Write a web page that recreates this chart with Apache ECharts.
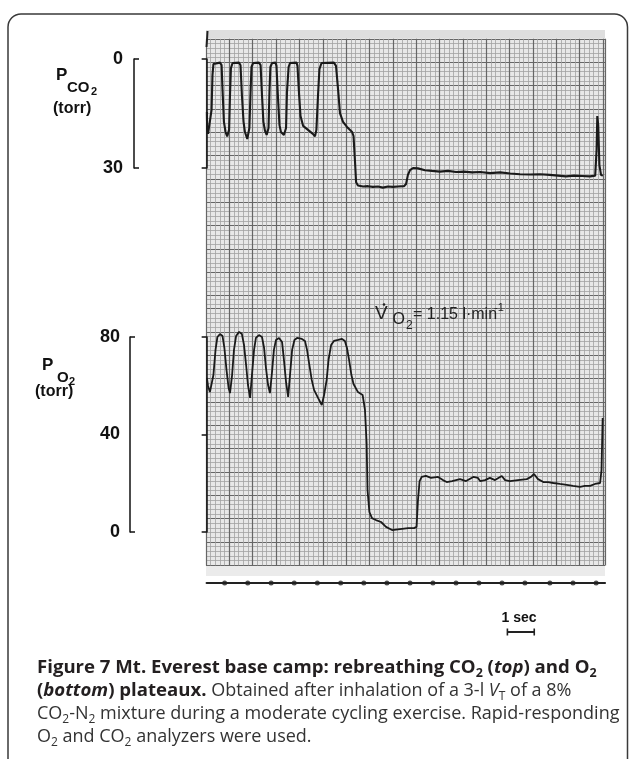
<!DOCTYPE html>
<html><head><meta charset="utf-8">
<script src="https://cdn.jsdelivr.net/npm/echarts@6/dist/echarts.min.js"></script>
<style>html,body{margin:0;padding:0;background:#fff}#c{width:629px;height:759px}</style>
</head><body><div id="c"></div>
<script>
// ---------------- data (time in s, pressures in torr) ----------------
const co2Ticks = [0, 30];
const o2Ticks = [0, 40, 80];
const co2Trace = [[0.01,14.6],[0.02,19.0],[0.06,20.6],[0.14,20.8],[0.21,14.0],[0.25,4.4],[0.29,1.4],[0.36,1.0],[0.57,1.0],[0.64,1.7],[0.68,8.5],[0.74,17.3],[0.81,20.1],[0.88,21.3],
[0.96,19.5],[1.00,9.9],[1.04,2.5],[1.11,1.1],[1.39,1.0],[1.45,1.7],[1.51,9.9],[1.58,17.3],[1.64,20.1],[1.74,22.0],
[1.83,19.0],[1.88,9.1],[1.92,2.2],[1.99,1.1],[2.24,1.0],[2.31,1.7],[2.37,9.9],[2.43,17.3],[2.50,19.8],[2.57,20.9],
[2.65,19.0],[2.69,9.1],[2.73,2.2],[2.80,1.1],[2.95,1.0],[2.99,1.9],[3.06,11.3],[3.12,18.2],[3.18,20.1],[3.31,20.9],
[3.40,19.0],[3.44,9.1],[3.51,2.2],[3.57,1.1],[3.85,1.0],[3.89,1.9],[3.96,9.9],[4.02,15.7],[4.13,18.4],[4.34,19.5],[4.55,20.6],[4.64,21.3],
[4.70,19.5],[4.77,9.9],[4.83,2.8],[4.92,1.1],[5.45,1.0],[5.54,1.9],[5.63,8.5],[5.71,14.9],[5.84,17.3],[6.01,18.7],[6.23,20.1],[6.29,21.2],[6.35,27.8],[6.40,33.9],[6.48,34.8],
[6.70,35.1],[6.91,35.0],[7.12,35.2],[7.34,35.1],[7.55,35.4],[7.76,35.1],[7.98,35.2],[8.19,35.1],[8.45,35.0],[8.54,34.4],[8.62,31.9],[8.71,30.6],[8.84,30.0],
[9.05,30.1],[9.35,30.6],[9.65,30.8],[9.99,31.0],[10.34,30.8],[10.68,31.1],[11.02,31.0],[11.37,31.2],[11.71,31.1],[12.14,31.4],[12.57,31.2],[13.00,31.5],[13.42,31.7],[13.85,31.8],[14.28,31.7],[14.70,31.9],[15.05,32.1],[15.39,32.3],[15.74,32.1],[16.08,32.2],[16.42,32.3],[16.64,32.1],[16.70,25.0],[16.73,15.7],[16.77,18.2],[16.82,29.2],[16.89,31.9],[16.97,32.1]];
const o2Trace = [[0.01,63.2],[0.06,59.9],[0.14,57.4],[0.22,57.0],[0.29,64.4],[0.38,74.7],[0.46,80.0],[0.57,81.2],[0.68,80.4],[0.76,75.5],[0.85,66.5],[0.94,59.1],
[1.00,57.0],[1.09,64.4],[1.17,74.7],[1.26,80.4],[1.39,82.1],[1.51,81.2],[1.60,76.7],[1.69,68.5],[1.77,60.3],
[1.86,55.0],[1.94,64.4],[2.03,74.7],[2.11,79.6],[2.24,80.8],[2.37,80.0],[2.46,75.5],[2.54,67.3],[2.63,60.3],
[2.71,57.0],[2.80,65.6],[2.88,74.7],[2.97,78.8],[3.10,79.6],[3.23,77.9],[3.31,70.6],[3.40,61.5],
[3.49,55.4],[3.57,64.4],[3.66,74.7],[3.76,78.8],[3.87,79.6],[4.08,79.2],[4.21,78.4],[4.30,74.7],[4.38,69.7],[4.50,62.4],[4.60,58.3],[4.77,55.0],
[4.93,52.1],[5.03,56.2],[5.14,62.4],[5.22,70.6],[5.33,76.7],[5.45,78.4],[5.63,78.8],[5.80,79.2],[5.92,78.4],[6.01,75.5],[6.10,70.6],[6.20,64.4],[6.29,60.7],[6.48,57.4],[6.68,56.2],
[6.78,50.1],[6.85,36.5],[6.89,17.2],[6.97,8.2],[7.08,5.7],[7.25,4.9],[7.47,4.1],[7.68,2.1],[7.94,0.8],[8.28,1.2],[8.63,1.6],[8.88,1.6],[8.99,2.1],
[9.05,13.1],[9.12,20.9],[9.21,22.6],[9.39,23.0],[9.61,22.2],[9.91,22.6],[10.12,21.3],[10.28,20.5],[10.51,20.9],[10.85,21.7],[11.11,20.9],[11.42,22.6],[11.62,22.2],[11.71,20.9],[11.92,21.3],[12.13,22.2],[12.35,21.3],[12.64,23.0],[12.78,21.3],[12.99,20.9],[13.33,21.3],[13.71,21.7],[13.89,22.6],[14.02,23.8],[14.19,21.7],[14.42,20.5],[14.62,20.5],[14.85,20.1],[15.13,19.7],[15.42,19.3],[15.69,18.9],[15.99,18.5],[16.20,18.9],[16.42,18.9],[16.63,19.7],[16.85,20.1],[16.91,25.4],[16.96,46.8]];
const timerMarks = [0.77,1.76,2.76,3.75,4.74,5.74,6.73,7.72,8.71,9.69,10.68,11.66,12.65,13.63,14.70,15.69,16.68];
const scaleBar = [12.88, 14.03];

// ---------------- layout ----------------
const PX_PER_SEC = 23.35;      // chart-paper major division = 1 s
const W = 629;
const traceLeft = 206.65, rightGap = 24;
const traceMax = (W - rightGap - traceLeft) / PX_PER_SEC;
const paperLeft = 206;
const paperMaxX = (W - rightGap - paperLeft) / PX_PER_SEC;
const topPaper = {top: 38.8, height: 256.85};
const botPaper = {top: 295.65, height: 269.75};

const ink = '#1a1a1a';
function paperAxis(gi, max){
  return {type:'value', gridIndex:gi, min:0, max:max, interval:1,
    axisLine:{show:false}, axisTick:{show:false}, axisLabel:{show:false},
    minorTick:{show:false, splitNumber:5},
    splitLine:{show:true, lineStyle:{color:'#666666', width:1.2}},
    minorSplitLine:{show:true, lineStyle:{color:'#a2a2a2', width:0.8}}};
}
function hiddenX(gi){
  return {type:'value', gridIndex:gi, min:0, max:traceMax, show:false};
}
const axisLbl = {fontFamily:'Liberation Sans', fontWeight:'bold', fontSize:18, color:'#111'};

const option = {
  animation:false,
  backgroundColor:'#fff',
  grid:[
    {left:paperLeft, right:rightGap, top:topPaper.top, height:topPaper.height, show:true, backgroundColor:'#e8e8e8', borderWidth:0},
    {left:paperLeft, right:rightGap, top:botPaper.top, height:botPaper.height, show:true, backgroundColor:'#e8e8e8', borderWidth:0},
    {left:traceLeft, right:rightGap, top:59, height:109},
    {left:traceLeft, right:rightGap, top:337, height:195},
    {left:traceLeft, right:rightGap, top:578, height:5},
    {left:traceLeft, right:rightGap, top:627, height:10}
  ],
  xAxis:[
    paperAxis(0, paperMaxX),
    paperAxis(1, paperMaxX),
    hiddenX(2), hiddenX(3),
    {type:'value', gridIndex:4, min:0, max:traceMax, axisLine:{show:true, onZero:false, lineStyle:{color:'#222', width:2.2}},
      axisTick:{show:false}, axisLabel:{show:false}, splitLine:{show:false}},
    hiddenX(5)
  ],
  yAxis:[
    paperAxis(0, topPaper.height / PX_PER_SEC),
    paperAxis(1, botPaper.height / PX_PER_SEC),
    {type:'value', gridIndex:2, min:co2Ticks[0], max:co2Ticks[1], interval:co2Ticks[1]-co2Ticks[0], inverse:true,
      position:'left', offset:traceLeft-134,
      axisLine:{show:true, lineStyle:{color:'#111', width:1.5}},
      axisTick:{show:true, length:5, lineStyle:{color:'#111', width:1.5}},
      axisLabel:Object.assign({show:true, margin:11}, axisLbl), splitLine:{show:false}},
    {type:'value', gridIndex:2, min:co2Ticks[0], max:co2Ticks[1], interval:co2Ticks[1]-co2Ticks[0], inverse:true,
      position:'left', offset:traceLeft-134,
      axisLine:{show:true, lineStyle:{color:'#111', width:1.5}},
      axisTick:{show:true, inside:true, length:5, lineStyle:{color:'#111', width:1.5}},
      axisLabel:{show:false}, splitLine:{show:false}},
    {type:'value', gridIndex:3, min:o2Ticks[0], max:o2Ticks[2], interval:o2Ticks[1]-o2Ticks[0],
      position:'left', offset:traceLeft-130,
      axisLine:{show:true, lineStyle:{color:'#111', width:1.5}},
      axisTick:{show:true, length:5, lineStyle:{color:'#111', width:1.5}},
      axisLabel:Object.assign({show:true, margin:10}, axisLbl), splitLine:{show:false}},
    {type:'value', gridIndex:3, min:o2Ticks[0], max:o2Ticks[2], interval:o2Ticks[2]-o2Ticks[0],
      position:'left', offset:traceLeft-130,
      axisLine:{show:true, lineStyle:{color:'#111', width:1.5}},
      axisTick:{show:true, inside:true, length:5, lineStyle:{color:'#111', width:1.5}},
      axisLabel:{show:false}, splitLine:{show:false}},
    {type:'value', gridIndex:4, min:0, max:1, show:false},
    {type:'value', gridIndex:5, min:0, max:1, show:false}
  ],
  series:[
    {type:'line', name:'PCO2', xAxisIndex:2, yAxisIndex:2, data:co2Trace, symbol:'none', showSymbol:false, clip:false,
      lineStyle:{color:ink, width:2.1}, z:5},
    {type:'line', name:'PO2', xAxisIndex:3, yAxisIndex:4, data:o2Trace, symbol:'none', showSymbol:false, clip:false,
      lineStyle:{color:ink, width:1.8}, z:5},
    {type:'scatter', name:'timer', xAxisIndex:4, yAxisIndex:6, data:timerMarks.map(t=>[t,0]), symbolSize:5, clip:false,
      itemStyle:{color:'#222'}, z:6},
    {type:'line', name:'1 sec', xAxisIndex:5, yAxisIndex:7, data:scaleBar.map(t=>[t,0.5]), symbol:'rect', symbolSize:[1.6,7],
      showSymbol:true, clip:false, lineStyle:{color:'#222', width:2}, itemStyle:{color:'#222'}, z:6}
  ],
  graphic:[]
};

// ---------------- text & decoration ----------------
const G = option.graphic;
G.push({type:'rect', shape:{x:8, y:14, width:619.5, height:820, r:13}, style:{fill:'none', stroke:'#3a3a3a', lineWidth:1.5}, z:10});
G.push({type:'rect', shape:{x:paperLeft, y:30, width:W-rightGap-paperLeft, height:8.8}, style:{fill:'#dedede'}, z:-1});
G.push({type:'rect', shape:{x:paperLeft, y:566, width:W-rightGap-paperLeft, height:10}, style:{fill:'#ebebeb'}, z:-1});
// pen start mark at top-left of the paper
G.push({type:'polyline', shape:{points:[[207.5,31],[207,40],[206.5,47]]}, style:{stroke:'#222', lineWidth:2, fill:'none'}, z:8});

function txt(s, x, y, size, opts){
  return {type:'text', x:x, y:y, z:20, style:Object.assign({text:s, fill:'#111', fontFamily:'Liberation Sans', fontWeight:'bold', fontSize:size, textAlign:'left', textVerticalAlign:'middle'}, opts||{})};
}
// P_CO2 (torr)
G.push(txt('P', 56, 75, 17));
G.push(txt('CO', 67, 88, 15));
G.push(txt('2', 91, 92, 11));
G.push(txt('(torr)', 53, 109, 16));
// P_O2 (torr)
G.push(txt('P', 42, 365, 17));
G.push(txt('O', 57, 378, 15));
G.push(txt('2', 69, 382, 11));
G.push(txt('(torr)', 35, 392, 16));
// V'O2 = 1.15 l.min-1
G.push(txt('V', 375, 314, 19, {fontWeight:'normal', fill:'#222'}));
G.push({type:'circle', shape:{cx:384, cy:304.5, r:1.3}, style:{fill:'#222'}, z:20});
G.push(txt('O', 392.5, 320, 16, {fontWeight:'normal', fill:'#222'}));
G.push(txt('2', 406, 326, 12, {fontWeight:'normal', fill:'#222'}));
G.push(txt('= 1.15 l\u00b7min', 413, 315, 16, {fontWeight:'normal', fill:'#222'}));
G.push(txt('-1', 494, 308, 11, {fontWeight:'normal', fill:'#222'}));
// 1 sec
G.push(txt('1 sec', 519, 618, 14, {textAlign:'center'}));

// caption
const capFam = 'Open Sans';
const dark = '#231f20', reg = '#333333';
const rich = {
  b:{fontFamily:capFam, fontSize:18.6, fontWeight:'bold', fill:dark, lineHeight:23},
  bi:{fontFamily:capFam, fontSize:18.6, fontWeight:'bold', fontStyle:'italic', fill:dark, lineHeight:23},
  bs:{fontFamily:capFam, fontSize:12.5, fontWeight:'bold', fill:dark, lineHeight:11, verticalAlign:'bottom'},
  r:{fontFamily:capFam, fontSize:18, fill:reg, lineHeight:23},
  ri:{fontFamily:capFam, fontSize:18, fontStyle:'italic', fill:reg, lineHeight:23},
  rs:{fontFamily:capFam, fontSize:12, fill:reg, lineHeight:11, verticalAlign:'bottom'}
};
const capLines = [
  '{b|Figure 7 Mt. Everest base camp: rebreathing CO}{bs|2}{b| (}{bi|top}{b|) and O}{bs|2}',
  '{b|(}{bi|bottom}{b|) plateaux.}{r| Obtained after inhalation of a 3-l }{ri|V}{rs|T}{r| of a 8%}',
  '{r|CO}{rs|2}{r|-N}{rs|2}{r| mixture during a moderate cycling exercise. Rapid-responding}',
  '{r|O}{rs|2}{r| and CO}{rs|2}{r| analyzers were used.}'
];
const capTop = 668, capPitch = 23;
capLines.forEach((s,i)=>{
  G.push({type:'text', x:37, y:capTop + i*capPitch, z:20,
    style:{text:s, rich:rich, textAlign:'left', textVerticalAlign:'middle', fill:dark, fontFamily:capFam, fontSize:18}});
});

const chart = echarts.init(document.getElementById('c'), null, {renderer:'canvas'});
chart.setOption(option);
</script>
</body></html>
